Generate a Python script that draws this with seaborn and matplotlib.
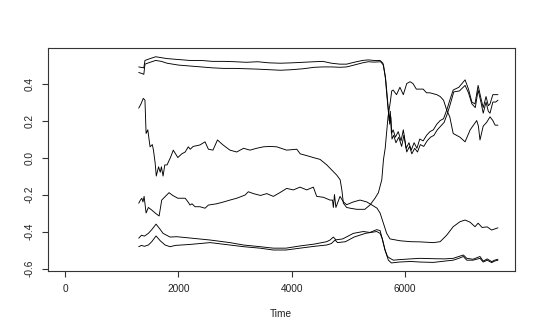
import numpy as np
import pandas as pd
import matplotlib
matplotlib.use("Agg")
import matplotlib.pyplot as plt
import seaborn as sns

# ---- data (time, value) ----
a_t = [1300, 1390, 1410, 1500, 1600, 1700, 1800, 2000, 2200, 2400, 2600, 2800, 3000, 3200, 3400, 3600, 3800,
       4000, 4200, 4400, 4550, 4700, 4850, 4970, 5100, 5250, 5350, 5450, 5560, 5610, 5650, 5690, 5720, 5740,
       5760, 5790, 5830, 5880, 5930, 5970, 6020, 6070, 6110, 6160, 6210, 6260, 6320, 6380, 6440, 6500, 6560,
       6620, 6680, 6740, 6790, 6850, 6950, 7060, 7120, 7180, 7235, 7290, 7340, 7380, 7430, 7470, 7500, 7550,
       7600, 7640]
a_v = [0.49, 0.485, 0.525, 0.535, 0.545, 0.54, 0.535, 0.53, 0.525, 0.525, 0.52, 0.52, 0.518, 0.515, 0.518,
       0.512, 0.51, 0.512, 0.515, 0.518, 0.52, 0.51, 0.505, 0.505, 0.515, 0.525, 0.528, 0.525, 0.525, 0.51,
       0.44, 0.3, 0.2, 0.25, 0.13, 0.15, 0.11, 0.14, 0.09, 0.15, 0.05, 0.08, 0.04, 0.08, 0.05, 0.1, 0.09, 0.12,
       0.14, 0.15, 0.18, 0.2, 0.21, 0.26, 0.31, 0.365, 0.38, 0.42, 0.37, 0.3, 0.29, 0.39, 0.32, 0.27, 0.33,
       0.28, 0.29, 0.34, 0.34, 0.34]

b_t = [1300, 1350, 1390, 1410, 1500, 1600, 1700, 1800, 2000, 2200, 2400, 2600, 2800, 3000, 3200, 3400, 3600,
       3800, 4000, 4200, 4400, 4550, 4700, 4850, 4970, 5100, 5250, 5350, 5450, 5570, 5620, 5660, 5700, 5730,
       5750, 5770, 5800, 5840, 5890, 5940, 5980, 6030, 6080, 6120, 6170, 6220, 6270, 6330, 6390, 6450, 6510,
       6570, 6630, 6690, 6750, 6800, 6860, 6960, 7060, 7120, 7180, 7240, 7290, 7340, 7380, 7430, 7470, 7500,
       7550, 7600, 7640]
b_v = [0.46, 0.455, 0.45, 0.505, 0.515, 0.525, 0.52, 0.51, 0.5, 0.495, 0.49, 0.485, 0.482, 0.482, 0.48, 0.478,
       0.475, 0.472, 0.475, 0.48, 0.488, 0.49, 0.49, 0.488, 0.49, 0.5, 0.512, 0.518, 0.516, 0.518, 0.5, 0.42,
       0.28, 0.18, 0.22, 0.1, 0.12, 0.08, 0.11, 0.06, 0.12, 0.03, 0.06, 0.02, 0.05, 0.03, 0.07, 0.06, 0.09, 0.11,
       0.12, 0.15, 0.17, 0.19, 0.24, 0.29, 0.355, 0.36, 0.39, 0.35, 0.29, 0.27, 0.365, 0.3, 0.24, 0.3, 0.25,
       0.24, 0.3, 0.3, 0.31]

c_t = [1300, 1340, 1380, 1410, 1430, 1460, 1500, 1540, 1560, 1590, 1610, 1650, 1680, 1700, 1730, 1760, 1800,
       1860, 1910, 1950, 1990, 2060, 2120, 2175, 2210, 2260, 2380, 2470, 2530, 2610, 2690, 2780, 2910, 3030,
       3150, 3265, 3380, 3500, 3620, 3735, 3910, 4090, 4150, 4270, 4380, 4500, 4620, 4715, 4795, 4855, 4885,
       4912, 4970, 5050, 5150, 5290, 5380, 5470, 5530, 5590, 5620, 5650, 5700, 5740, 5765, 5790, 5850, 5910,
       5970, 6030, 6090, 6140, 6200, 6260, 6320, 6380, 6440, 6500, 6560, 6620, 6680, 6735, 6790, 6850, 6970,
       7060, 7150, 7265, 7295, 7323, 7380, 7440, 7500, 7550, 7590, 7640]
c_v = [0.267, 0.29, 0.32, 0.31, 0.13, 0.15, 0.058, 0.07, 0.04, -0.03, -0.10, -0.05, -0.08, -0.05, -0.10, -0.04,
       -0.04, 0.0, 0.04, 0.02, 0.0, 0.02, 0.03, 0.058, 0.045, 0.06, 0.068, 0.085, 0.045, 0.04, 0.095, 0.07,
       0.04, 0.03, 0.05, 0.04, 0.05, 0.058, 0.06, 0.058, 0.04, 0.045, 0.02, 0.01, 0.0, -0.01, -0.04, -0.07,
       -0.095, -0.12, -0.175, -0.247, -0.27, -0.275, -0.28, -0.28, -0.257, -0.22, -0.19, -0.12, -0.01, 0.05,
       0.22, 0.3, 0.36, 0.365, 0.34, 0.38, 0.34, 0.4, 0.41, 0.4, 0.37, 0.37, 0.37, 0.35, 0.35, 0.345, 0.34,
       0.33, 0.31, 0.257, 0.22, 0.13, 0.11, 0.085, 0.15, 0.20, 0.17, 0.095, 0.17, 0.19, 0.22, 0.2, 0.175, 0.175]

d_t = [1300, 1330, 1355, 1375, 1395, 1430, 1470, 1530, 1590, 1660, 1706, 1770, 1835, 1900, 1990, 2120, 2170,
       2206, 2240, 2294, 2380, 2470, 2530, 2676, 2800, 2910, 3030, 3176, 3235, 3324, 3450, 3560, 3676, 3790,
       3910, 4030, 4147, 4265, 4382, 4441, 4560, 4676, 4720, 4735, 4755, 4780, 4853, 4912, 4970, 5088, 5206,
       5324, 5418, 5506, 5560, 5618, 5676, 5735, 5912, 6100, 6265, 6500, 6620, 6735, 6850, 6970, 7060, 7150,
       7235, 7290, 7360, 7450, 7530, 7640]
d_v = [-0.247, -0.23, -0.22, -0.24, -0.21, -0.30, -0.27, -0.284, -0.30, -0.316, -0.23, -0.21, -0.19, -0.205,
       -0.22, -0.22, -0.24, -0.257, -0.25, -0.266, -0.266, -0.274, -0.257, -0.25, -0.24, -0.23, -0.22, -0.203,
       -0.185, -0.195, -0.205, -0.195, -0.21, -0.19, -0.167, -0.175, -0.16, -0.175, -0.16, -0.21, -0.215,
       -0.23, -0.23, -0.27, -0.2, -0.27, -0.21, -0.24, -0.255, -0.24, -0.23, -0.24, -0.257, -0.274, -0.3,
       -0.355, -0.41, -0.44, -0.45, -0.455, -0.456, -0.46, -0.455, -0.42, -0.374, -0.347, -0.338, -0.35,
       -0.374, -0.355, -0.378, -0.375, -0.392, -0.38]

e_t = [1300, 1350, 1400, 1470, 1530, 1606, 1670, 1730, 1853, 1970, 2200, 2560, 2910, 3150, 3440, 3676, 3900,
       4147, 4400, 4617, 4676, 4735, 4780, 4900, 5088, 5265, 5380, 5500, 5560, 5590, 5647, 5690, 5735, 5794,
       5900, 6100, 6265, 6500, 6700, 6850, 6950, 7030, 7090, 7200, 7323, 7380, 7450, 7530, 7580, 7640]
e_v = [-0.436, -0.42, -0.425, -0.41, -0.39, -0.36, -0.385, -0.41, -0.43, -0.428, -0.435, -0.446, -0.46, -0.473,
       -0.482, -0.49, -0.49, -0.478, -0.468, -0.455, -0.446, -0.43, -0.445, -0.44, -0.41, -0.40, -0.405, -0.39,
       -0.395, -0.43, -0.50, -0.535, -0.545, -0.555, -0.552, -0.548, -0.545, -0.547, -0.548, -0.545, -0.535,
       -0.527, -0.545, -0.55, -0.535, -0.56, -0.548, -0.563, -0.555, -0.55]

f_t = [1300, 1350, 1400, 1470, 1530, 1606, 1680, 1765, 1853, 1950, 2200, 2560, 2910, 3150, 3440, 3676, 3900,
       4147, 4400, 4617, 4700, 4765, 4810, 4950, 5100, 5300, 5500, 5560, 5600, 5647, 5706, 5760, 5900, 6100,
       6265, 6500, 6700, 6850, 6950, 7030, 7090, 7200, 7323, 7380, 7450, 7530, 7580, 7640]
f_v = [-0.482, -0.475, -0.48, -0.473, -0.455, -0.424, -0.45, -0.473, -0.482, -0.475, -0.47, -0.46, -0.473,
       -0.482, -0.49, -0.5, -0.5, -0.49, -0.48, -0.473, -0.465, -0.446, -0.46, -0.455, -0.43, -0.41, -0.40,
       -0.41, -0.44, -0.50, -0.555, -0.57, -0.565, -0.562, -0.565, -0.567, -0.56, -0.555, -0.545, -0.535,
       -0.555, -0.555, -0.545, -0.565, -0.555, -0.568, -0.56, -0.555]

x_ticks = [0, 2000, 4000, 6000]
y_ticks = [-0.6, -0.4, -0.2, 0.0, 0.2, 0.4]
y_tick_labels = ["-0.6", "-0.4", "-0.2", "0.0", "0.2", "0.4"]
x_label = "Time"

series = {"A": (a_t, a_v), "B": (b_t, b_v), "C": (c_t, c_v),
          "D": (d_t, d_v), "E": (e_t, e_v), "F": (f_t, f_v)}
df = pd.concat([pd.DataFrame({"time": t, "value": v, "series": k}) for k, (t, v) in series.items()],
               ignore_index=True)

sns.set_theme(style="ticks")
plt.rcParams["font.family"] = ["Liberation Sans", "DejaVu Sans"]

W, H = 540, 332
fig = plt.figure(figsize=(W / 100, H / 100), dpi=100)
fig.patch.set_facecolor("white")
L, R, T, B = 47.5, 515, 47.5, 271
ax = fig.add_axes([L / W, 1 - B / H, (R - L) / W, (B - T) / H])
ax.set_facecolor("white")

sns.lineplot(data=df, x="time", y="value", units="series", estimator=None, sort=False,
             color="black", linewidth=0.65, ax=ax, legend=False)

ax.set_xlim(-310, 7941)
ax.set_ylim(-0.6135, 0.595)
ax.set_xticks(x_ticks)
ax.set_xticklabels([str(v) for v in x_ticks])
ax.set_yticks(y_ticks)
ax.set_yticklabels(y_tick_labels)
for lbl in ax.get_yticklabels():
    lbl.set_rotation(90)
    lbl.set_va("center")
ax.tick_params(axis="both", length=4, width=0.8, color="#333333", labelsize=7.3, pad=5,
               labelcolor="#222222")
ax.set_xlabel(x_label, fontsize=7.3, color="#222222", labelpad=11)
ax.set_ylabel("")
for s in ax.spines.values():
    s.set_visible(True)
    s.set_linewidth(0.8)
    s.set_color("#333333")

fig.savefig("out.png", dpi=100, facecolor="white")
